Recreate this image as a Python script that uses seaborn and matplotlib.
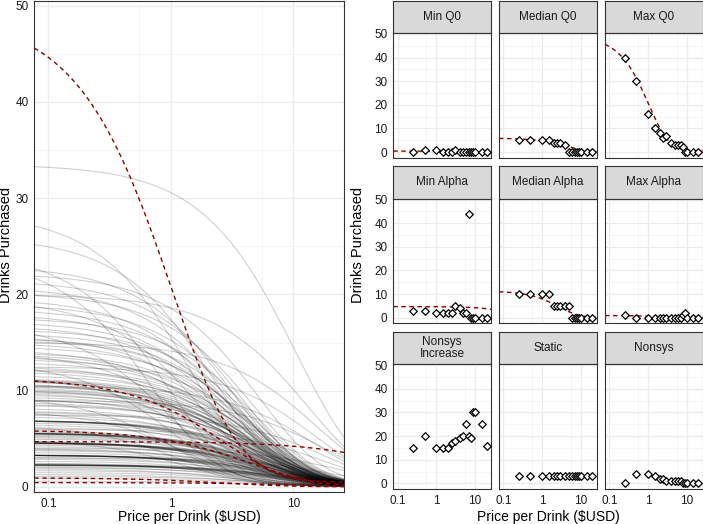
import numpy as np
import pandas as pd
import matplotlib
matplotlib.use('Agg')
import matplotlib.pyplot as plt
from matplotlib.ticker import FixedLocator, NullFormatter, FuncFormatter
import seaborn as sns

# prices used in the purchase task (log axis, price 0 dropped)
prices = [0.25, 0.5, 1, 1.5, 2, 2.5, 3, 4, 5, 6, 7, 8, 9, 10, 15, 20]

panel_names = ['Min Q0', 'Median Q0', 'Max Q0',
               'Min Alpha', 'Median Alpha', 'Max Alpha',
               'Nonsys\nIncrease', 'Static', 'Nonsys']

drinks_min_q0 = [0, 1, 1, 0, 0, 0, 1, 0, 0, 0, 0, 0, 0, 0, 0, 0]
drinks_median_q0 = [5, 5, 5, 5, 4, 4, 4, 3, 0, 0, 0, 0, 0, 0, 0, 0]
drinks_max_q0 = [40, 30, 16, 10, 8, 6, 7, 4, 3, 3, 3, 2, 0, 0, 0, 0]
drinks_min_alpha = [3, 3, 2, 2, 2, 2, 5, 4, 2, 2, 44, 0, 0, 0, 0, 0]
drinks_median_alpha = [10, 10, 10, 10, 5, 5, 5, 5, 5, 0, 0, 0, 0, 0, 0, 0]
drinks_max_alpha = [1, 0, 0, 0, 0, 0, 0, 0, 0, 0, 0, 1, 2, 0, 0, 0]
drinks_nonsys_increase = [15, 20, 15, 15, 15, 17, 18, 19, 20, 25, 20, 19, 30, 30, 25, 16]
drinks_static = [3, 3, 3, 3, 3, 3, 3, 3, 3, 3, 3, 3, 3, 3, 3, 3]
drinks_nonsys = [0, 4, 4, 3, 2, 2, 1, 1, 1, 1, 1, 0, 0, 0, 0, 0]

# fitted exponentiated-demand parameters of the highlighted cases
fitted_names = ['Min Q0', 'Median Q0', 'Max Q0', 'Min Alpha', 'Median Alpha', 'Max Alpha']
fitted_q0 = [0.45, 5.9, 49.0, 4.7, 11.3, 0.95]
fitted_alpha = [0.04, 0.008, 0.0042, 0.0005, 0.007, 0.08]

# fitted parameters of all other participants (grey curves)
sample_q0 = [
    0.6, 0.9, 1.1, 1.3, 1.5, 1.7, 1.9, 2.0, 2.1, 2.2,
    2.3, 2.3, 2.3, 2.3, 2.3, 2.3, 2.4, 2.5, 2.7, 2.9,
    3.1, 3.3, 3.3, 3.3, 3.3, 3.3, 3.3, 3.3, 3.4, 3.6,
    3.8, 4.0, 4.2, 4.4, 4.5, 4.6, 4.6, 4.6, 4.6, 4.6,
    4.6, 4.6, 4.7, 4.8, 5.0, 5.2, 5.4, 5.5, 5.6, 5.6,
    5.6, 5.6, 5.6, 5.6, 5.7, 5.8, 6.0, 6.2, 6.5, 6.7,
    6.9, 6.9, 6.9, 6.9, 6.9, 7.0, 7.3, 7.6, 7.9, 8.2,
    8.5, 8.8, 9.0, 9.2, 9.4, 9.6, 9.8, 10.0, 10.1, 10.2,
    10.4, 10.5, 10.7, 10.8, 11.0, 11.1, 11.2, 11.2, 11.2, 11.3,
    11.6, 12.0, 12.3, 12.6, 13.0, 13.3, 13.6, 14.0, 14.3, 14.6,
    15.0, 15.3, 15.7, 16.0, 16.4, 16.8, 17.2, 17.6, 18.0, 18.5,
    19.0, 19.6, 20.2, 20.8, 21.5, 22.2, 23.0, 24.5, 26.0, 28.5,
    33.5, 15.0, 9.0, 12.5, 7.5, 6.0, 20.0, 4.0, 10.5, 3.0,
    17.0, 13.0, 9.5, 8.0, 11.5, 6.5, 5.0, 14.0, 19.5, 24.0,
    2.3, 3.3, 4.6, 5.6, 6.9, 3.3, 4.6, 5.6, 2.3, 6.9,
    7.8, 8.6, 9.1, 9.9, 10.6, 12.2, 13.8, 15.5, 3.9, 5.3,
]
sample_alpha = [
    0.05, 0.04, 0.03, 0.035, 0.025, 0.02, 0.03, 0.015, 0.02, 0.012,
    0.010, 0.012, 0.009, 0.014, 0.011, 0.016, 0.01, 0.02, 0.015, 0.012,
    0.014, 0.008, 0.009, 0.010, 0.011, 0.007, 0.012, 0.0095, 0.013, 0.01,
    0.009, 0.011, 0.008, 0.01, 0.007, 0.0065, 0.0075, 0.006, 0.0085, 0.007,
    0.009, 0.0055, 0.008, 0.01, 0.006, 0.009, 0.007, 0.0065, 0.006, 0.0055,
    0.0075, 0.007, 0.005, 0.008, 0.0065, 0.006, 0.0085, 0.005, 0.007, 0.006,
    0.005, 0.0045, 0.006, 0.0055, 0.004, 0.0065, 0.005, 0.006, 0.0045, 0.0055,
    0.004, 0.005, 0.0035, 0.006, 0.0045, 0.004, 0.0055, 0.0038, 0.0048, 0.0042,
    0.005, 0.0036, 0.0044, 0.0052, 0.004, 0.0046, 0.0038, 0.0056, 0.0042, 0.0035,
    0.0032, 0.004, 0.003, 0.0045, 0.0036, 0.0028, 0.0042, 0.0033, 0.005, 0.003,
    0.0035, 0.0028, 0.0042, 0.003, 0.0026, 0.0038, 0.0032, 0.0024, 0.0036, 0.003,
    0.0026, 0.0034, 0.0022, 0.003, 0.0025, 0.0018, 0.0028, 0.009, 0.0035, 0.005,
    0.0006, 0.0009, 0.0012, 0.0011, 0.0015, 0.0018, 0.0008, 0.002, 0.0013, 0.003,
    0.012, 0.015, 0.02, 0.018, 0.01, 0.025, 0.03, 0.008, 0.006, 0.012,
    0.013, 0.0085, 0.0068, 0.0062, 0.0048, 0.0105, 0.008, 0.0058, 0.0105, 0.0052,
    0.0045, 0.0041, 0.0047, 0.0039, 0.0043, 0.0034, 0.0037, 0.0029, 0.0088, 0.0072,
]

K = 2.0
X_LIM = (0.0767, 26.06)
RED = '#8B0000'
DASH = (0, (3.2, 2.6))


def demand(price, q0, alpha, k=K):
    # exponentiated demand equation
    return q0 * 10 ** (k * (np.exp(-alpha * q0 * price) - 1))


def px_box(left, top, right, bottom, W=703, H=524):
    return [left / W, 1 - bottom / H, (right - left) / W, (bottom - top) / H]


def style_axis(ax, ylim):
    ax.set_xscale('log')
    ax.set_xlim(*X_LIM)
    ax.set_ylim(*ylim)
    ax.xaxis.set_major_locator(FixedLocator([0.1, 1, 10]))
    ax.xaxis.set_major_formatter(FuncFormatter(lambda v, p: f'{v:g}'))
    ax.xaxis.set_minor_locator(FixedLocator([0.055, 0.55, 5.5]))
    ax.xaxis.set_minor_formatter(NullFormatter())
    ax.yaxis.set_major_locator(FixedLocator([0, 10, 20, 30, 40, 50]))
    ax.yaxis.set_minor_locator(FixedLocator([5, 15, 25, 35, 45]))
    ax.grid(which='major', color='#EBEBEB', lw=0.9)
    ax.grid(which='minor', color='#F2F2F2', lw=0.5)
    ax.set_axisbelow(True)
    ax.set_xlabel('')
    ax.set_ylabel('')
    for s in ax.spines.values():
        s.set_color('#333333')
        s.set_linewidth(0.8)
    ax.tick_params(which='major', length=3, width=0.7, color='#333333',
                   labelsize=8.5, labelcolor='#1A1A1A', pad=1.2)
    ax.tick_params(which='minor', length=0)


sns.set_style('white')
plt.rcParams['font.family'] = ['Liberation Sans', 'DejaVu Sans']

fig = plt.figure(figsize=(7.03, 5.24), dpi=100)

grid_x = np.geomspace(X_LIM[0], X_LIM[1], 150)

# ---- left panel: all fitted curves
curves = pd.concat([
    pd.DataFrame({'id': i, 'price': grid_x, 'drinks': demand(grid_x, q, a)})
    for i, (q, a) in enumerate(zip(sample_q0, sample_alpha))
])
ax_left = fig.add_axes(px_box(34.3, 0.8, 344.3, 491.7))
sns.lineplot(data=curves, x='price', y='drinks', units='id', estimator=None,
             color='black', alpha=0.19, lw=0.8, ax=ax_left, legend=False, sort=False)
for q, a in zip(fitted_q0, fitted_alpha):
    sns.lineplot(x=grid_x, y=demand(grid_x, q, a), color=RED, lw=1.0,
                 linestyle=DASH, ax=ax_left)
style_axis(ax_left, (-0.5, 50.5))
fig.text(189.3 / 703, 1 - 517 / 524, 'Price per Drink ($USD)', ha='center', va='center',
         fontsize=10, color='black')
fig.text(6.5 / 703, 1 - 245 / 524, 'Drinks Purchased', ha='center', va='center',
         rotation=90, fontsize=10.5, color='black')

# ---- right panel: example participants
panel_drinks = [drinks_min_q0, drinks_median_q0, drinks_max_q0,
                drinks_min_alpha, drinks_median_alpha, drinks_max_alpha,
                drinks_nonsys_increase, drinks_static, drinks_nonsys]
col_left = [393.3, 499.0, 605.0]
col_w = 97.7
row_top = [0.5, 166.1, 331.7]
strip_h = 32.5
panel_h = 124.8

for idx, name in enumerate(panel_names):
    r, c = divmod(idx, 3)
    l = col_left[c]
    t = row_top[r]
    strip = fig.add_axes(px_box(l, t, l + col_w, t + strip_h))
    strip.set_facecolor('#D9D9D9')
    strip.set_xticks([])
    strip.set_yticks([])
    for s in strip.spines.values():
        s.set_color('#333333')
        s.set_linewidth(0.8)
    strip.text(0.5, 0.5, name, ha='center', va='center', fontsize=8.5,
               color='#1A1A1A', transform=strip.transAxes, linespacing=1.1)

    ax = fig.add_axes(px_box(l, t + strip_h, l + col_w, t + strip_h + panel_h))
    if name in fitted_names:
        j = fitted_names.index(name)
        sns.lineplot(x=grid_x, y=demand(grid_x, fitted_q0[j], fitted_alpha[j]),
                     color=RED, lw=1.0, linestyle=DASH, ax=ax)
    sns.scatterplot(x=prices, y=panel_drinks[idx], marker='D', s=15,
                    color='white', edgecolor='black', linewidth=0.9, ax=ax, zorder=3)
    style_axis(ax, (-2.4, 50.4))
    if c != 0:
        ax.tick_params(left=False, labelleft=False)
    if r != 2:
        ax.tick_params(bottom=False, labelbottom=False)

fig.text(548 / 703, 1 - 517 / 524, 'Price per Drink ($USD)', ha='center', va='center',
         fontsize=10, color='black')
fig.text(358 / 703, 1 - 245 / 524, 'Drinks Purchased', ha='center', va='center',
         rotation=90, fontsize=10.5, color='black')

fig.savefig('out.png', dpi=100)
